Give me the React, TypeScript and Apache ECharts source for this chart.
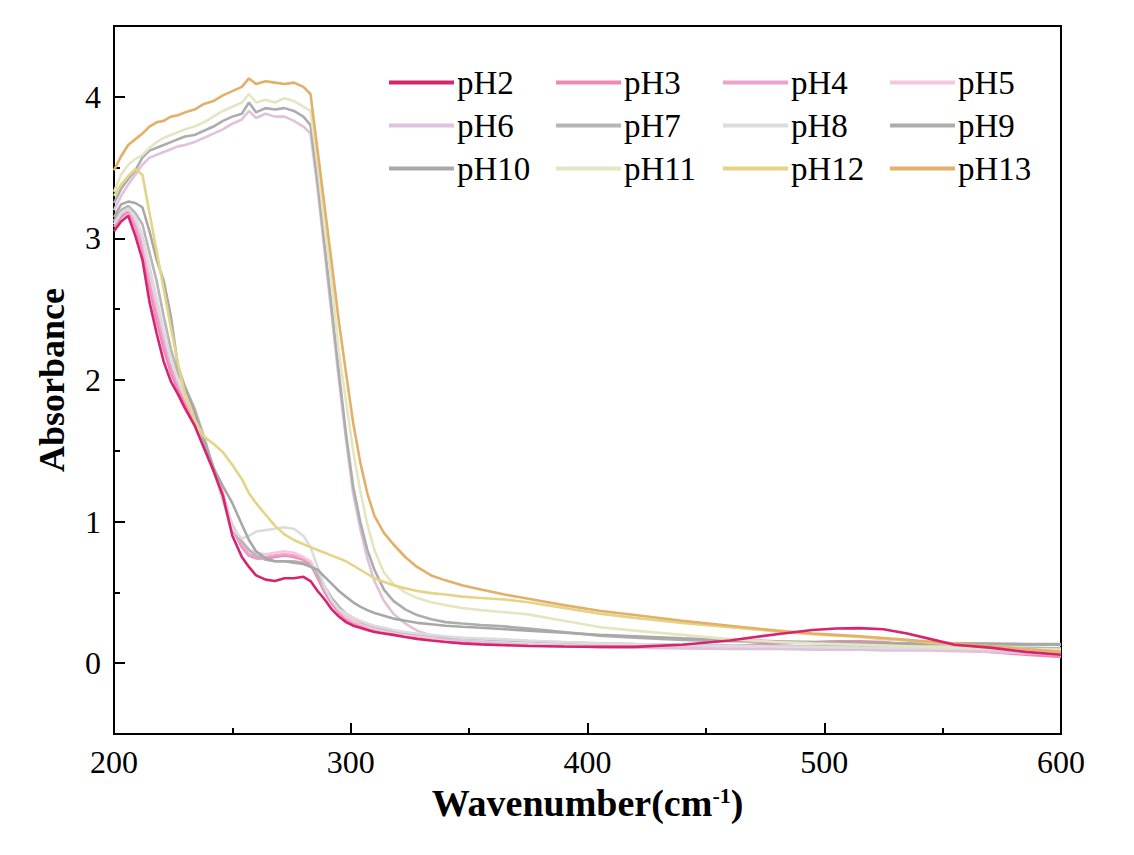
import React, { useEffect, useRef } from "react";
import * as echarts from "echarts";

const wavelengths = [200,203,206,209,212,215,218,221,224,227,230,234,238,242,246,250,254,257,260,264,268,272,276,280,283,286,289,292,295,298,301,304,307,310,314,318,323,328,334,340,347,355,365,375,390,405,420,440,460,480,495,505,515,525,535,545,555,570,585,600];

const pH2 = [3.05,3.12,3.16,3.02,2.85,2.55,2.33,2.13,1.99,1.9,1.8,1.68,1.52,1.36,1.18,0.9,0.75,0.68,0.62,0.59,0.58,0.6,0.6,0.61,0.58,0.51,0.45,0.38,0.33,0.29,0.265,0.25,0.235,0.22,0.21,0.2,0.185,0.172,0.16,0.15,0.14,0.133,0.127,0.122,0.118,0.115,0.115,0.13,0.16,0.205,0.235,0.245,0.248,0.24,0.21,0.17,0.13,0.11,0.08,0.06];
const pH3 = [3.08,3.15,3.19,3.08,2.92,2.65,2.42,2.22,2.05,1.93,1.83,1.7,1.55,1.38,1.2,0.95,0.82,0.76,0.74,0.74,0.75,0.76,0.75,0.73,0.7,0.6,0.5,0.42,0.36,0.31,0.28,0.26,0.245,0.23,0.22,0.205,0.19,0.178,0.165,0.155,0.145,0.138,0.13,0.125,0.12,0.115,0.112,0.11,0.12,0.14,0.15,0.155,0.155,0.15,0.13,0.11,0.095,0.08,0.06,0.045];
const pH4 = [3.1,3.17,3.2,3.1,2.95,2.7,2.48,2.28,2.1,1.97,1.86,1.72,1.56,1.38,1.18,0.96,0.83,0.77,0.75,0.75,0.76,0.77,0.76,0.74,0.71,0.62,0.52,0.44,0.37,0.32,0.29,0.27,0.255,0.24,0.225,0.21,0.195,0.183,0.17,0.16,0.15,0.143,0.135,0.13,0.125,0.12,0.115,0.11,0.108,0.11,0.115,0.118,0.12,0.118,0.112,0.105,0.098,0.09,0.08,0.07];
const pH5 = [3.12,3.2,3.22,3.14,3.0,2.76,2.54,2.33,2.14,2.0,1.88,1.74,1.57,1.37,1.17,0.98,0.86,0.8,0.78,0.77,0.78,0.79,0.78,0.75,0.72,0.63,0.53,0.45,0.38,0.33,0.3,0.28,0.26,0.245,0.23,0.215,0.2,0.188,0.175,0.165,0.155,0.148,0.14,0.133,0.127,0.122,0.118,0.113,0.11,0.108,0.106,0.105,0.104,0.103,0.1,0.098,0.095,0.09,0.085,0.08];
const pH6 = [3.2,3.3,3.38,3.45,3.52,3.57,3.59,3.61,3.63,3.65,3.66,3.68,3.71,3.74,3.77,3.81,3.84,3.9,3.85,3.88,3.86,3.86,3.83,3.79,3.74,3.35,2.9,2.45,2.0,1.58,1.2,0.95,0.74,0.58,0.44,0.35,0.28,0.23,0.195,0.175,0.16,0.15,0.14,0.13,0.12,0.115,0.11,0.105,0.1,0.1,0.095,0.095,0.095,0.09,0.09,0.09,0.085,0.08,0.07,0.06];
const pH7 = [3.12,3.2,3.23,3.18,3.1,2.9,2.7,2.45,2.22,2.05,1.95,1.8,1.6,1.38,1.15,0.95,0.86,0.8,0.76,0.73,0.72,0.72,0.72,0.71,0.69,0.62,0.54,0.46,0.4,0.35,0.32,0.295,0.275,0.26,0.245,0.23,0.215,0.205,0.195,0.185,0.178,0.17,0.162,0.155,0.147,0.14,0.135,0.13,0.125,0.122,0.12,0.12,0.12,0.118,0.117,0.115,0.113,0.11,0.108,0.105];
const pH8 = [3.1,3.18,3.21,3.15,3.02,2.8,2.58,2.35,2.15,2.0,1.88,1.74,1.56,1.36,1.15,0.95,0.88,0.9,0.93,0.94,0.95,0.96,0.95,0.9,0.82,0.68,0.54,0.44,0.38,0.35,0.32,0.3,0.28,0.265,0.25,0.235,0.22,0.21,0.2,0.19,0.18,0.175,0.168,0.16,0.15,0.14,0.135,0.128,0.122,0.118,0.115,0.113,0.11,0.108,0.106,0.105,0.103,0.1,0.098,0.095];
const pH9 = [3.25,3.35,3.42,3.48,3.57,3.62,3.64,3.66,3.68,3.7,3.72,3.73,3.76,3.79,3.83,3.86,3.88,3.96,3.89,3.92,3.91,3.92,3.9,3.86,3.8,3.4,2.95,2.5,2.05,1.62,1.25,1.0,0.8,0.66,0.52,0.44,0.38,0.34,0.31,0.29,0.28,0.27,0.26,0.245,0.22,0.195,0.18,0.165,0.155,0.15,0.145,0.14,0.14,0.14,0.135,0.135,0.135,0.135,0.13,0.13];
const pH10 = [3.15,3.24,3.26,3.25,3.22,3.05,2.85,2.7,2.45,2.1,1.95,1.78,1.57,1.38,1.25,1.13,0.98,0.87,0.79,0.74,0.72,0.72,0.71,0.7,0.68,0.66,0.61,0.56,0.51,0.47,0.43,0.4,0.375,0.355,0.335,0.315,0.3,0.285,0.275,0.265,0.257,0.25,0.24,0.23,0.215,0.2,0.19,0.175,0.165,0.155,0.15,0.148,0.145,0.143,0.14,0.14,0.14,0.138,0.136,0.135];
const pH11 = [3.33,3.45,3.52,3.56,3.59,3.64,3.68,3.71,3.73,3.75,3.77,3.79,3.82,3.86,3.9,3.93,3.96,4.02,3.96,3.98,3.96,3.99,3.97,3.93,3.9,3.52,3.08,2.68,2.2,1.85,1.5,1.22,0.98,0.8,0.64,0.56,0.5,0.46,0.43,0.41,0.39,0.375,0.36,0.345,0.3,0.255,0.23,0.2,0.17,0.15,0.14,0.135,0.13,0.125,0.12,0.115,0.11,0.105,0.1,0.095];
const pH12 = [3.3,3.38,3.44,3.49,3.45,3.18,2.91,2.64,2.37,2.12,1.9,1.72,1.6,1.55,1.49,1.4,1.3,1.2,1.13,1.05,0.97,0.91,0.87,0.84,0.82,0.8,0.78,0.76,0.74,0.72,0.69,0.66,0.63,0.6,0.575,0.55,0.53,0.51,0.495,0.485,0.47,0.46,0.45,0.43,0.39,0.35,0.32,0.285,0.255,0.225,0.205,0.195,0.185,0.17,0.16,0.145,0.135,0.12,0.1,0.08];
const pH13 = [3.48,3.58,3.66,3.7,3.74,3.79,3.82,3.83,3.86,3.87,3.89,3.91,3.95,3.97,4.01,4.04,4.07,4.13,4.09,4.11,4.1,4.09,4.1,4.07,4.02,3.62,3.22,2.82,2.41,2.05,1.7,1.42,1.2,1.04,0.92,0.84,0.75,0.68,0.62,0.585,0.55,0.52,0.485,0.455,0.41,0.37,0.34,0.3,0.265,0.23,0.21,0.2,0.19,0.178,0.165,0.152,0.14,0.12,0.1,0.08];

const seriesNames = ["pH2","pH3","pH4","pH5","pH6","pH7","pH8","pH9","pH10","pH11","pH12","pH13"];
const seriesValues = [pH2,pH3,pH4,pH5,pH6,pH7,pH8,pH9,pH10,pH11,pH12,pH13];
const seriesColors = ["#d6246e","#ee88b8","#eda2cb","#f6c6de","#e0c2dc","#b6b6b6","#dcdcdc","#adadad","#a8a8a8","#e4e6c2","#e4d486","#e2b068"];

const xTicks = [200, 300, 400, 500, 600];
const yTicks = [0, 1, 2, 3, 4];

const FONT = "Liberation Serif, Times New Roman, serif";

export default function App() {
  const ref = useRef<HTMLDivElement>(null);
  useEffect(() => {
    if (!ref.current) return;
    const chart = echarts.init(ref.current, undefined, { renderer: "svg" });
    const colX = [389, 556, 723, 890];
    const rowY = [66, 109, 152];
    const legends = seriesNames.map((n, i) => ({
      data: [n],
      left: colX[i % 4],
      top: rowY[Math.floor(i / 4)],
      icon: "rect",
      itemWidth: 65,
      itemHeight: 4,
      padding: 0,
      selectedMode: false,
      textStyle: { fontSize: 33, fontFamily: FONT, color: "#000", padding: [0, 0, 0, -2] },
    }));
    chart.setOption({
      animation: false,
      backgroundColor: "#fff",
      textStyle: { fontFamily: FONT },
      legend: legends,
      grid: {
        left: 114, right: 73, top: 26, bottom: 121,
        show: true, borderColor: "#000", borderWidth: 2, backgroundColor: "transparent",
      },
      xAxis: {
        type: "value",
        min: xTicks[0],
        max: xTicks[xTicks.length - 1],
        interval: 100,
        name: "{a|Wavenumber(cm}{s|-1}{a|)}",
        nameLocation: "middle",
        nameGap: 50,
        nameTextStyle: {
          rich: {
            a: { fontSize: 38, fontWeight: "bold", fontFamily: FONT, color: "#000" },
            s: { fontSize: 22, fontWeight: "bold", fontFamily: FONT, color: "#000", verticalAlign: "top" },
          },
        },
        axisLine: { show: true, onZero: false, lineStyle: { color: "#000", width: 2 } },
        axisTick: { show: true, inside: true, length: 11, lineStyle: { color: "#000", width: 2 } },
        minorTick: { show: true, splitNumber: 2, length: 6, lineStyle: { color: "#000", width: 2 } },
        axisLabel: { fontSize: 32, fontFamily: FONT, color: "#000", margin: 12 },
        splitLine: { show: false },
        minorSplitLine: { show: false },
      },
      yAxis: [
        {
          type: "value",
          min: -0.5,
          max: 4.5,
          splitNumber: 5,
          name: "Absorbance",
          nameLocation: "middle",
          nameGap: 44,
          nameTextStyle: { fontSize: 36, fontWeight: "bold", fontFamily: FONT, color: "#000" },
          axisLine: { show: true, onZero: false, lineStyle: { color: "#000", width: 2 } },
          axisTick: { show: true, inside: true, length: 11, lineStyle: { color: "#000", width: 2 } },
          axisLabel: {
            fontSize: 32, fontFamily: FONT, color: "#000", margin: 13,
            formatter: (v: number) => (yTicks.indexOf(Math.round(v * 100) / 100) >= 0 ? String(v) : ""),
          },
          splitLine: { show: false },
        },
        {
          type: "value",
          min: -0.5,
          max: 4.5,
          interval: 0.5,
          position: "left",
          axisLine: { show: false, onZero: false },
          axisTick: { show: true, inside: true, length: 6, lineStyle: { color: "#000", width: 2 } },
          axisLabel: { show: false },
          splitLine: { show: false },
        },
      ],
      series: seriesNames.map((n, i) => ({
        name: n,
        type: "line",
        yAxisIndex: 0,
        showSymbol: false,
        symbol: "none",
        color: seriesColors[i],
        lineStyle: { width: 2.6, color: seriesColors[i] },
        z: i === 0 ? 3 : 2,
        data: wavelengths.map((x, k) => [x, seriesValues[i][k]]),
      })),
    });
    return () => chart.dispose();
  }, []);
  return (
    <div
      ref={ref}
      style={{ position: "fixed", left: 0, top: 0, width: 1134, height: 855, background: "#fff" }}
    />
  );
}
